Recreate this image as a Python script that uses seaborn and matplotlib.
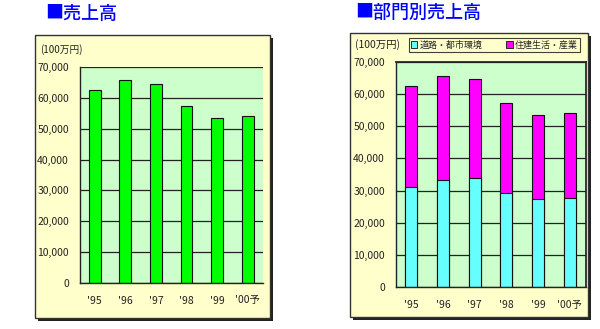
import matplotlib
matplotlib.use("Agg")
import matplotlib.pyplot as plt
import seaborn as sns
import pandas as pd
from matplotlib.patches import Rectangle, Patch
from matplotlib.ticker import FuncFormatter, FixedLocator

years = ["'95", "'96", "'97", "'98", "'99", "'00予"]
total = [62500, 65700, 64600, 57200, 53500, 54000]
road_city = [31200, 33300, 34000, 29400, 27300, 27800]
housing_ind = [t - r for t, r in zip(total, road_city)]
yticks = [0, 10000, 20000, 30000, 40000, 50000, 60000, 70000]
title_left = "■売上高"
title_right = "■部門別売上高"
unit = "(100万円)"
legend_labels = ["道路・都市環境", "住建生活・産業"]

sns.set_theme(style="white")
plt.rcParams['font.family'] = ['Noto Sans CJK JP', 'DejaVu Sans']

W, H = 600, 329
fig = plt.figure(figsize=(6, 3.29), dpi=100)
fig.patch.set_facecolor("white")

def fx(x): return x / W
def fy(y): return 1 - y / H

def frame(x0, y0, x1, y1):
    fig.patches.append(Rectangle((fx(x0 + 3), fy(y1 + 3)), fx(x1 - x0), (y1 - y0) / H,
                                 transform=fig.transFigure, facecolor="#222222",
                                 edgecolor="none", zorder=0))
    fig.patches.append(Rectangle((fx(x0), fy(y1)), fx(x1 - x0), (y1 - y0) / H,
                                 transform=fig.transFigure, facecolor="#FFFFCC",
                                 edgecolor="#333333", linewidth=1.0, zorder=0.5))

frame(35, 35, 270, 318)
frame(350, 33, 588, 317)

fig.text(fx(45), fy(14), title_left, color="#0000FF", fontsize=13, va="center", ha="left",
         fontweight="medium")
fig.text(fx(355), fy(13), title_right, color="#0000FF", fontsize=13, va="center", ha="left",
         fontweight="medium")

fmt = FuncFormatter(lambda v, p: f"{int(v):,}")

def style_axes(ax):
    ax.set_zorder(2)
    ax.set_facecolor("#CCFFCC")
    ax.set_ylim(0, 70000)
    ax.set_xlim(-0.48, 5.5)
    ax.yaxis.set_major_locator(FixedLocator(yticks))
    ax.yaxis.set_major_formatter(fmt)
    ax.grid(axis="y", color="#222222", linewidth=0.9)
    ax.grid(axis="x", visible=False)
    ax.set_axisbelow(True)
    for s in ["top", "right"]:
        ax.spines[s].set_visible(False)
    for s in ["left", "bottom"]:
        ax.spines[s].set_color("#222222")
        ax.spines[s].set_linewidth(1.0)
    ax.tick_params(axis="y", length=0, labelsize=7.5, pad=8, colors="#222222")
    ax.tick_params(axis="x", which="major", length=0, labelsize=7.5, pad=9, colors="#222222")
    ax.xaxis.set_minor_locator(FixedLocator([0.5, 1.5, 2.5, 3.5, 4.5, 5.5]))
    ax.tick_params(axis="x", which="minor", direction="in", length=3, width=0.8, color="#222222")
    ax.set_xlabel("")
    ax.set_ylabel("")

# Left chart
df_left = pd.DataFrame({"year": years, "sales": total})
axl = fig.add_axes([fx(80), fy(283), fx(263 - 80), (283 - 67) / H])
sns.barplot(data=df_left, x="year", y="sales", ax=axl, color="#00FF00", saturation=1,
            edgecolor="#111111", linewidth=0.8, width=0.38)
style_axes(axl)
fig.text(fx(40), fy(50), unit, fontsize=7, va="center", ha="left", color="#222222", zorder=3)

# Right chart (stacked)
df_right = pd.DataFrame({"year": years, "total": total, "road": road_city, "housing": housing_ind})
axr = fig.add_axes([fx(396), fy(287.3), fx(585.7 - 396), (287.3 - 61.7) / H])
sns.barplot(data=df_right, x="year", y="total", ax=axr, color="#FF00FF", saturation=1,
            edgecolor="#111111", linewidth=0.8, width=0.38)
sns.barplot(data=df_right, x="year", y="road", ax=axr, color="#66FFFF", saturation=1,
            edgecolor="#111111", linewidth=0.8, width=0.38)
style_axes(axr)
axr.spines["top"].set_visible(True)
axr.spines["right"].set_visible(True)
axr.spines["top"].set_color("#222222")
axr.spines["right"].set_color("#222222")
fig.text(fx(355), fy(45), unit, fontsize=7.5, va="center", ha="left", color="#222222", zorder=3)

handles = [Patch(facecolor="#66FFFF", edgecolor="#111111", linewidth=0.6),
           Patch(facecolor="#FF00FF", edgecolor="#111111", linewidth=0.6)]
leg = fig.legend(handles, legend_labels, loc="center", bbox_to_anchor=(fx(494.5), fy(45)),
                 ncol=2, fontsize=6.5, frameon=True, fancybox=False, handlelength=0.7,
                 handleheight=0.7, handletextpad=0.3, columnspacing=2.6,
                 borderpad=0.25, borderaxespad=0)
leg.get_frame().set_edgecolor("#111111")
leg.get_frame().set_facecolor("#FFFFCC")
leg.get_frame().set_linewidth(0.8)
leg.set_zorder(3)

fig.savefig("out.png", dpi=100)
